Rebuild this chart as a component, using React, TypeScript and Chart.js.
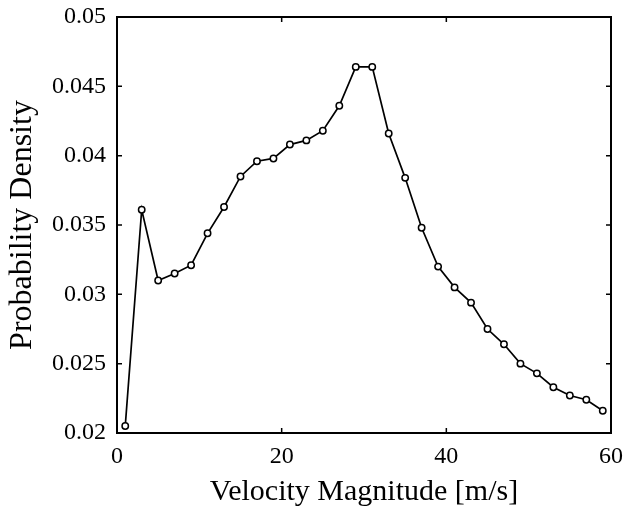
import React, { useEffect, useRef } from "react";
import { Chart, registerables } from "chart.js";

Chart.register(...registerables);

const velocities = [1, 3, 5, 7, 9, 11, 13, 15, 17, 19, 21, 23, 25, 27, 29, 31, 33, 35, 37, 39, 41, 43, 45, 47, 49, 51, 53, 55, 57, 59];
const densities = [
  0.0205, 0.0361, 0.0310, 0.0315, 0.0321, 0.0344, 0.0363, 0.0385, 0.0396, 0.0398,
  0.0408, 0.0411, 0.0418, 0.0436, 0.0464, 0.0464, 0.0416, 0.0384, 0.0348, 0.0320,
  0.0305, 0.0294, 0.0275, 0.0264, 0.0250, 0.0243, 0.0233, 0.0227, 0.0224, 0.0216,
];
const xTicks = [0, 20, 40, 60];
const yTicks = [0.02, 0.025, 0.03, 0.035, 0.04, 0.045, 0.05];
const xTitle = "Velocity Magnitude [m/s]";
const yTitle = "Probability Density";

const FONT = "'Liberation Serif', 'DejaVu Serif', serif";

const boxPlugin = {
  id: "boxTicks",
  afterDraw(chart: any) {
    const { ctx, chartArea } = chart;
    const { left, right, top, bottom } = chartArea;
    const xs = chart.scales.x;
    const ys = chart.scales.y;
    const L = 5;
    ctx.save();
    ctx.strokeStyle = "#000";
    ctx.lineWidth = 1.5;
    ctx.beginPath();
    xTicks.forEach((v) => {
      const px = xs.getPixelForValue(v);
      ctx.moveTo(px, bottom);
      ctx.lineTo(px, bottom - L);
      ctx.moveTo(px, top);
      ctx.lineTo(px, top + L);
    });
    yTicks.forEach((v) => {
      const py = ys.getPixelForValue(v);
      ctx.moveTo(left, py);
      ctx.lineTo(left + L, py);
      ctx.moveTo(right, py);
      ctx.lineTo(right - L, py);
    });
    ctx.stroke();
    ctx.lineWidth = 2;
    ctx.strokeRect(left, top, right - left, bottom - top);
    ctx.restore();
  },
};

export default function App() {
  const ref = useRef<HTMLCanvasElement>(null);
  useEffect(() => {
    document.body.style.margin = "0";
    const canvas = ref.current;
    if (!canvas) return;
    const chart = new Chart(canvas, {
      type: "line",
      data: {
        datasets: [
          {
            data: velocities.map((v, i) => ({ x: v, y: densities[i] })),
            borderColor: "#000",
            borderWidth: 1.7,
            pointStyle: "circle",
            pointRadius: 3.2,
            pointBorderWidth: 1.5,
            pointBorderColor: "#000",
            pointBackgroundColor: "#fff",
            tension: 0,
            fill: false,
          },
        ],
      },
      options: {
        responsive: false,
        animation: false,
        events: [],
        layout: { padding: { top: 17, right: 19, left: 0, bottom: 0 } },
        plugins: { legend: { display: false }, tooltip: { enabled: false } },
        scales: {
          x: {
            type: "linear",
            min: 0,
            max: 60,
            afterFit(scale: any) {
              scale.height = 74;
              scale.paddingLeft = 0;
              scale.paddingRight = 0;
            },
            afterBuildTicks(scale: any) {
              scale.ticks = xTicks.map((v) => ({ value: v }));
            },
            grid: { display: false, drawTicks: false },
            border: { display: false },
            ticks: {
              color: "#000",
              padding: 9,
              maxRotation: 0,
              font: { family: FONT, size: 24 },
              callback: (v: any) => String(v),
            },
            title: {
              display: true,
              text: xTitle,
              color: "#000",
              font: { family: FONT, size: 30, lineHeight: 1 },
              padding: { top: 0, bottom: 0 },
            },
          },
          y: {
            type: "linear",
            min: 0.02,
            max: 0.05,
            afterFit(scale: any) {
              scale.width = 117;
              scale.paddingTop = 0;
              scale.paddingBottom = 0;
            },
            afterBuildTicks(scale: any) {
              scale.ticks = yTicks.map((v) => ({ value: v }));
            },
            grid: { display: false, drawTicks: false },
            border: { display: false },
            ticks: {
              color: "#000",
              padding: 11,
              font: { family: FONT, size: 24 },
              callback: (v: any) => String(Number(Number(v).toFixed(3))),
            },
            title: {
              display: true,
              text: yTitle,
              color: "#000",
              font: { family: FONT, size: 32, lineHeight: 1 },
              padding: { top: 7, bottom: 0 },
            },
          },
        },
      },
      plugins: [boxPlugin],
    });
    return () => chart.destroy();
  }, []);
  return <canvas ref={ref} width={630} height={507} style={{ display: "block" }} />;
}
